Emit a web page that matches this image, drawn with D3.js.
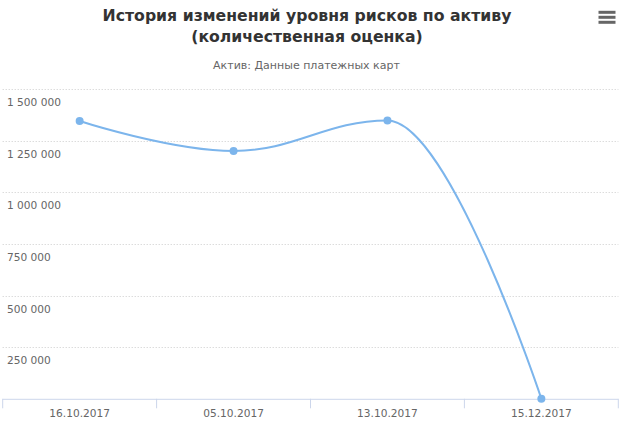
<!DOCTYPE html>
<html>
<head>
<meta charset="utf-8">
<script src="https://cdn.jsdelivr.net/npm/d3@7"></script>
<style>
  html, body { margin: 0; padding: 0; background: #fff; }
  svg { display: block; font-family: "DejaVu Sans", Verdana, sans-serif; }
</style>
</head>
<body>
<svg id="chart" width="623" height="426"></svg>
<script>
const titleLines = ["История изменений уровня рисков по активу", "(количественная оценка)"];
const subtitle = "Актив: Данные платежных карт";
const categories = ["16.10.2017", "05.10.2017", "13.10.2017", "15.12.2017"];
const values = [1346000, 1201000, 1349000, 0];
const yTicks = [250000, 500000, 750000, 1000000, 1250000, 1500000];

const W = 623, H = 426;
const plot = { left: 2.7, right: 618.3, top: 89.3, bottom: 398.8 };
const svg = d3.select("#chart");

const x = d3.scaleBand().domain(categories).range([plot.left, plot.right]).padding(0);
const y = d3.scaleLinear().domain([0, 1500000]).range([plot.bottom, plot.top]);
const fmt = v => d3.format(",")(v).replace(/,/g, " ");

// Title
const title = svg.append("text")
  .attr("text-anchor", "middle")
  .attr("fill", "#333333")
  .style("font-size", "15.7px")
  .style("font-weight", "bold");
titleLines.forEach((t, i) => {
  title.append("tspan").attr("x", 307).attr("y", 21 + i * 21).text(t);
});
svg.append("text")
  .attr("x", 306.5).attr("y", 69)
  .attr("text-anchor", "middle")
  .attr("fill", "#666666")
  .style("font-size", "11px")
  .text(subtitle);

// Menu icon
const menu = svg.append("g").attr("stroke", "#666666").attr("stroke-width", 3).attr("stroke-linecap", "butt");
[12.3, 17.3, 22.3].forEach(yy => {
  menu.append("line").attr("x1", 598.5).attr("x2", 615.5).attr("y1", yy).attr("y2", yy);
});

// Gridlines
svg.append("g").selectAll("line").data(yTicks).join("line")
  .attr("x1", plot.left).attr("x2", plot.right)
  .attr("y1", d => Math.round(y(d)) + 0.5).attr("y2", d => Math.round(y(d)) + 0.5)
  .attr("stroke", "#cccccc").attr("stroke-width", 1).attr("stroke-dasharray", "1,2");

// Y labels (inside plot, below gridline)
svg.append("g").selectAll("text").data(yTicks).join("text")
  .attr("x", 7).attr("y", d => y(d) + 17)
  .attr("fill", "#666666")
  .style("font-size", "10.6px")
  .text(d => fmt(d));

// X axis
const xAxis = d3.axisBottom(x).tickSize(0).tickSizeOuter(0);
const gx = svg.append("g").attr("transform", `translate(0,${plot.bottom})`).call(xAxis);
gx.select(".domain").attr("stroke", "#ccd6eb").attr("d", `M${plot.left},0.5H${plot.right}`);
gx.selectAll(".tick text").attr("fill", "#666666").attr("dy", 0).attr("y", 18.5)
  .style("font-size", "10.6px").style("font-family", "DejaVu Sans, sans-serif");
gx.selectAll(".tick line").remove();
const bounds = categories.map(c => x(c)).concat([x(categories[categories.length - 1]) + x.bandwidth()]);
gx.append("g").selectAll("line").data(bounds).join("line")
  .attr("x1", d => d).attr("x2", d => d)
  .attr("y1", 0).attr("y2", 9.5)
  .attr("stroke", "#ccd6eb").attr("stroke-width", 1);

// Highcharts-like spline
const pts = values.map((v, i) => ({ px: x(categories[i]) + x.bandwidth() / 2, py: y(v) }));
function splinePath(points) {
  const s = 1.5, den = s + 1;
  const p = d3.path();
  const conts = points.map(() => ({}));
  points.forEach((pt, i) => {
    const last = points[i - 1], next = points[i + 1];
    let lcx = pt.px, lcy = pt.py, rcx = pt.px, rcy = pt.py;
    if (last && next) {
      lcx = (s * pt.px + last.px) / den; lcy = (s * pt.py + last.py) / den;
      rcx = (s * pt.px + next.px) / den; rcy = (s * pt.py + next.py) / den;
      if (rcx !== lcx) {
        const corr = ((rcy - lcy) * (rcx - pt.px)) / (rcx - lcx) + pt.py - rcy;
        lcy += corr; rcy += corr;
        if (lcy > last.py && lcy > pt.py) { lcy = Math.max(last.py, pt.py); rcy = 2 * pt.py - lcy; }
        else if (lcy < last.py && lcy < pt.py) { lcy = Math.min(last.py, pt.py); rcy = 2 * pt.py - lcy; }
        if (rcy > next.py && rcy > pt.py) { rcy = Math.max(next.py, pt.py); lcy = 2 * pt.py - rcy; }
        else if (rcy < next.py && rcy < pt.py) { rcy = Math.min(next.py, pt.py); lcy = 2 * pt.py - rcy; }
      }
    }
    conts[i] = { lcx, lcy, rcx, rcy };
    if (i === 0) p.moveTo(pt.px, pt.py);
    else p.bezierCurveTo(conts[i - 1].rcx, conts[i - 1].rcy, lcx, lcy, pt.px, pt.py);
  });
  return p.toString();
}
svg.append("path")
  .attr("d", splinePath(pts))
  .attr("fill", "none").attr("stroke", "#7cb5ec").attr("stroke-width", 2)
  .attr("stroke-linejoin", "round").attr("stroke-linecap", "round");

svg.append("g").selectAll("circle").data(pts).join("circle")
  .attr("cx", d => d.px).attr("cy", d => d.py).attr("r", 4)
  .attr("fill", "#7cb5ec");
</script>
</body>
</html>
